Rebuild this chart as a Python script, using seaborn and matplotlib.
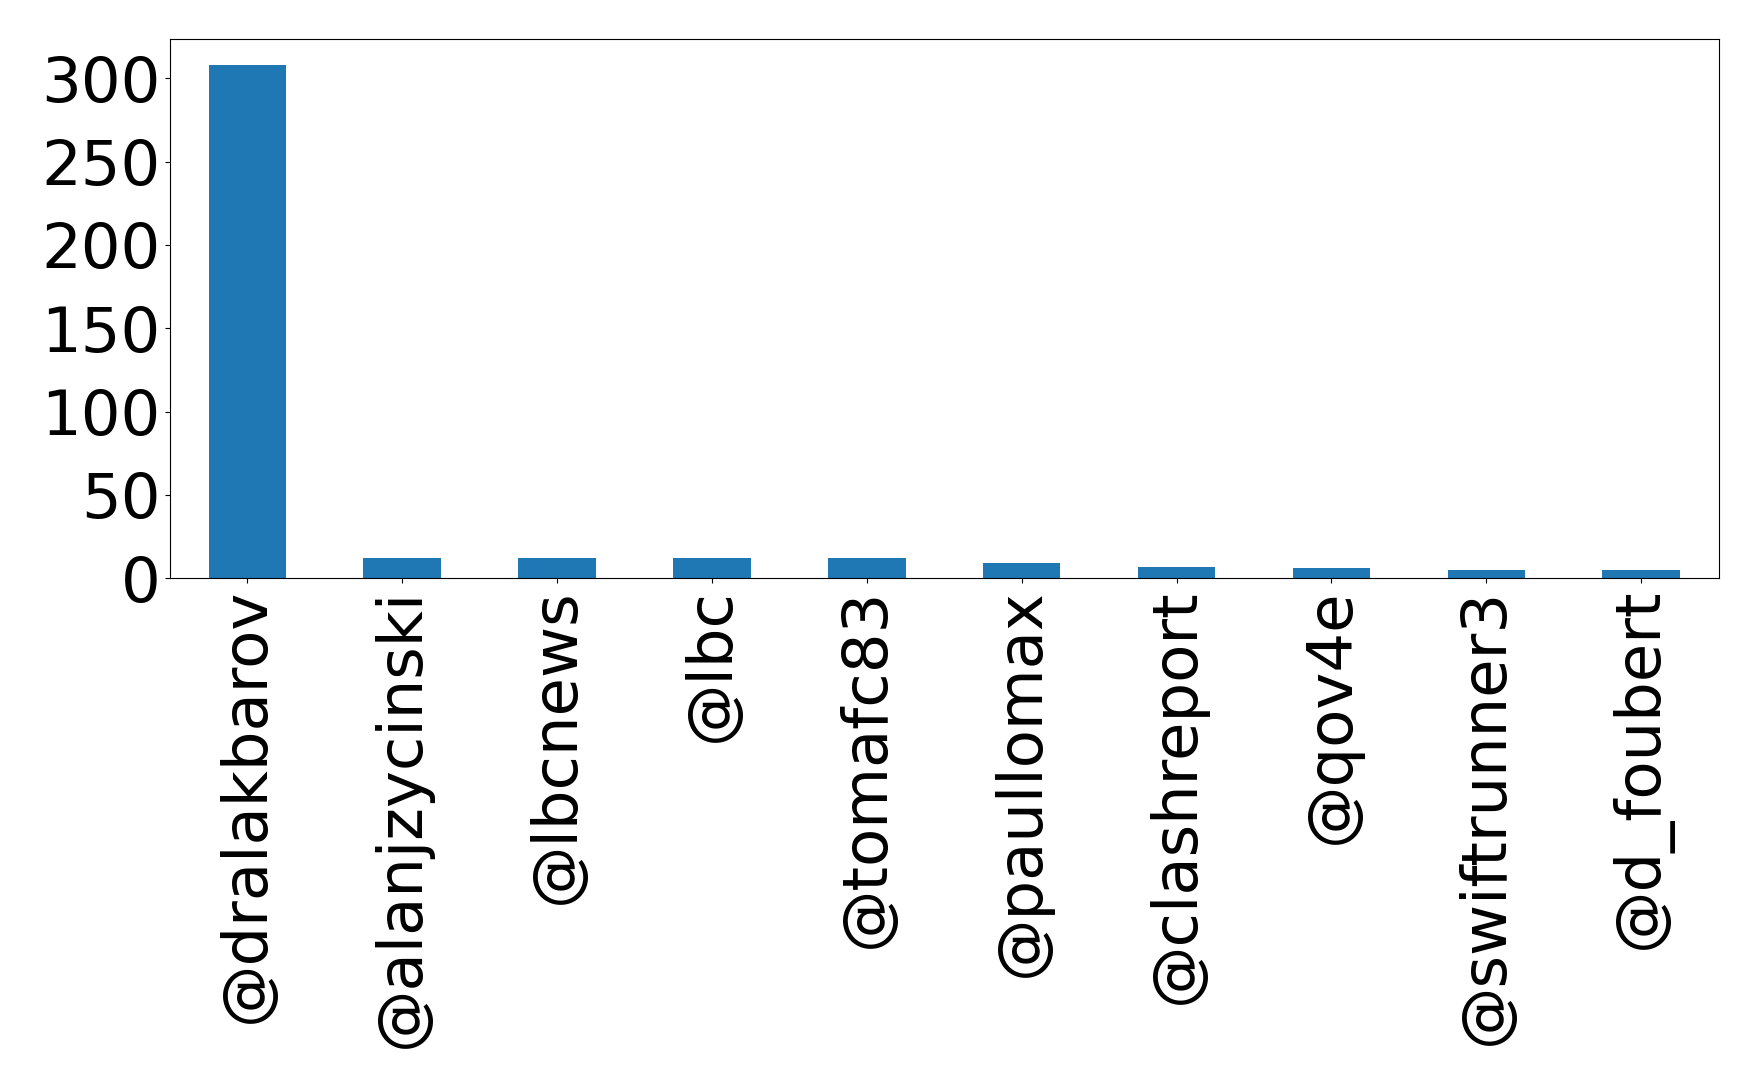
"""Top mentioned accounts bar chart."""

import matplotlib

matplotlib.use("Agg")
import matplotlib.pyplot as plt
import seaborn as sns
from matplotlib.ticker import MultipleLocator

users = [
    "@dralakbarov",
    "@alanjzycinski",
    "@lbcnews",
    "@lbc",
    "@tomafc83",
    "@paullomax",
    "@clashreport",
    "@qov4e",
    "@swiftrunner3",
    "@d_foubert",
]
counts = [308, 12, 12, 12, 12, 9, 7, 6, 5, 5]

plt.rcParams["font.family"] = ["DejaVu Sans"]

fig = plt.figure(figsize=(17.59, 10.88), dpi=100)
ax = fig.add_axes([0.0966, 0.4685, 0.8804, 0.4954])

sns.barplot(x=users, y=counts, color="#1f77b4", saturation=1, width=0.5, ax=ax)

ax.set_xlim(-0.5, len(users) - 0.5)
ax.set_ylim(0, max(counts) * 1.05)
ax.yaxis.set_major_locator(MultipleLocator(50))
ax.tick_params(axis="both", labelsize=45)
ax.tick_params(axis="x", rotation=90)
ax.set_xlabel("")
ax.set_ylabel("")

fig.savefig("out.png", dpi=100)
plt.close(fig)
